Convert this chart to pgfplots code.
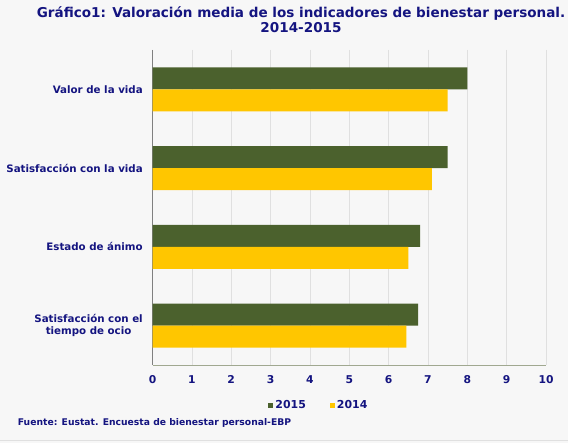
\documentclass[border=0pt]{standalone}
\usepackage{fontspec}
\setmainfont{DejaVu Sans}
\usepackage{pgfplots}
\pgfplotsset{compat=1.18}
\definecolor{navy}{RGB}{20,20,128}
\definecolor{olivebar}{RGB}{75,97,45}
\definecolor{goldbar}{RGB}{255,198,0}
\definecolor{bgcol}{RGB}{247,247,247}
\definecolor{gridcol}{RGB}{224,224,224}
\begin{document}
\begin{tikzpicture}[x=1bp,y=1bp]
\fill[bgcol] (0,0) rectangle (568,443);
\draw[black!12] (0,2.5) -- (568,2.5);
\node[font=\bfseries\fontsize{13.6}{14.5}\selectfont, text=navy, align=center] at (301,423.5)
  {Gráfico1: Valoración media de los indicadores de bienestar personal.\\2014-2015};
\begin{axis}[
  at={(152.5bp,78bp)}, anchor=south west,
  scale only axis, width=393.5bp, height=315bp,
  xbar=0pt, bar width=22bp,
  xmin=0, xmax=10, ymin=-0.5, ymax=3.5, y dir=reverse,
  xtick={0,1,...,10}, ytick={0,1,2,3},
  yticklabels={Valor de la vida, Satisfacción con la vida, Estado de ánimo, {Satisfacción con el\\tiempo de ocio}},
  axis x line*=bottom, axis y line*=left,
  x axis line style={draw={rgb,255:red,160;green,168;blue,144}, -},
  y axis line style={draw=black!50, -},
  tick style={draw=none},
  xmajorgrids, major grid style={draw=gridcol},
  /pgf/number format/assume math mode=true,
  ticklabel style={font=\bfseries\fontsize{10.8}{12.5}\selectfont, text=navy},
  yticklabel style={align=center, xshift=-2bp, font=\bfseries\fontsize{10.3}{12.5}\selectfont},
  xticklabel style={yshift=-7bp},
  legend style={at={(0.423,-0.129)}, anchor=center, draw=none, fill=none,
    legend columns=2, font=\bfseries\fontsize{11}{13}\selectfont, text=navy,
    /tikz/every even column/.append style={column sep=22bp}},
  legend image code/.code={\fill[#1,draw=none] (0bp,-2.5bp) rectangle (5bp,2.5bp);},
]
\addplot[fill=olivebar, draw=none, bar shift=11bp] coordinates {(8.0,0) (7.5,1) (6.8,2) (6.75,3)};
\addplot[fill=goldbar, draw=none, bar shift=-11bp] coordinates {(7.5,0) (7.1,1) (6.5,2) (6.45,3)};
\legend{2015,2014}
\end{axis}
\node[anchor=west, font=\bfseries\fontsize{9.25}{11}\selectfont, text=navy, inner sep=0] at (17.7,20)
  {Fuente: Eustat. Encuesta de bienestar personal-EBP};
\pgfresetboundingbox
\path[use as bounding box] (0,0) rectangle (568,443);
\end{tikzpicture}
\end{document}
